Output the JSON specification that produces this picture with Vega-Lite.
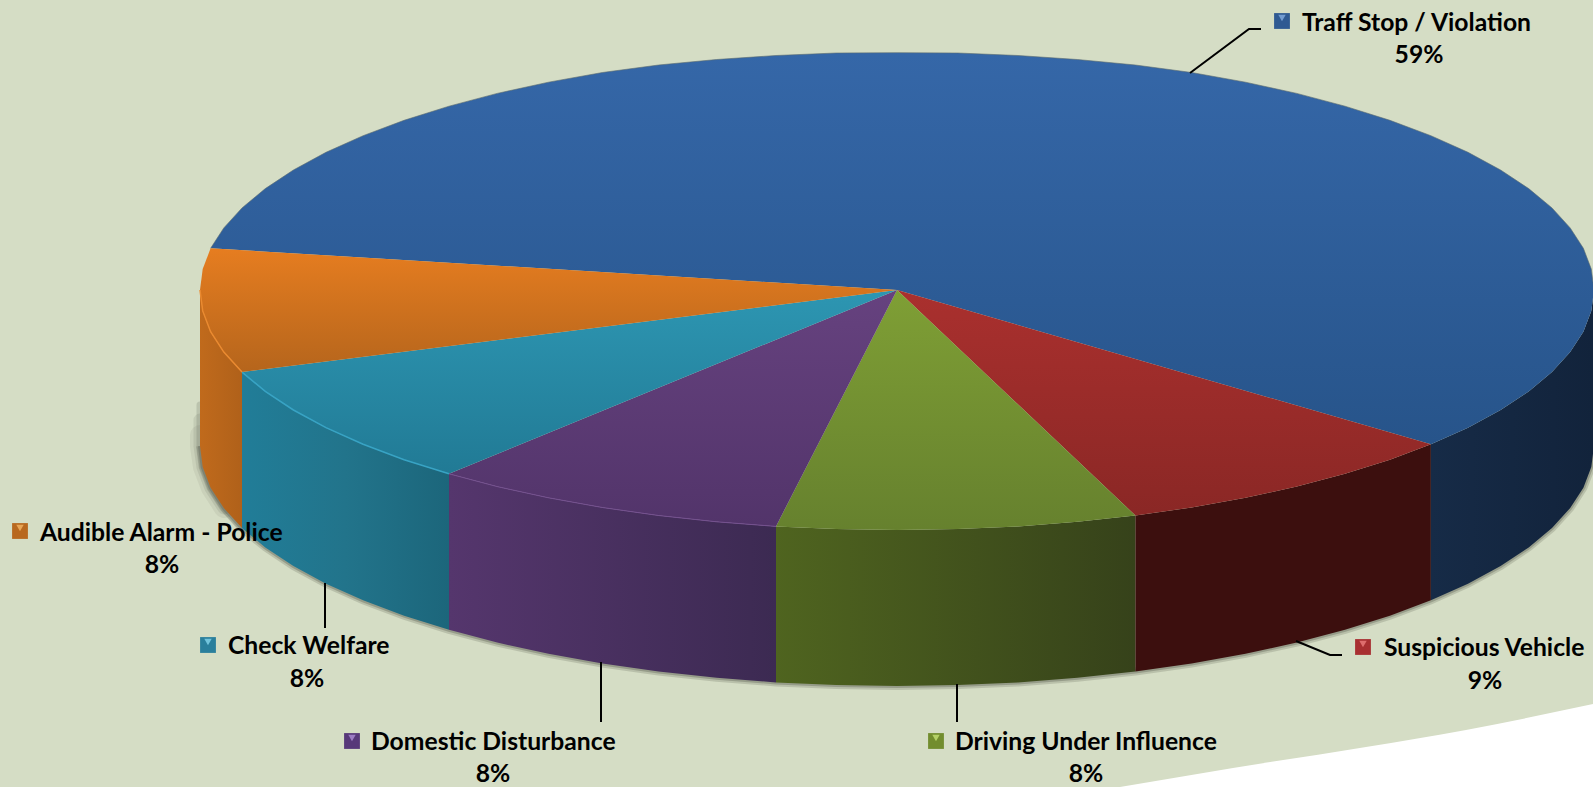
{"$schema":"https://vega.github.io/schema/vega-lite/v6.json","width":1593,"height":787,"padding":0,"autosize":{"type":"none"},"background":"#d5ddc5","config":{"view":{"stroke":null}},
"datasets":{
"page":[{"x":1120,"y":787},{"x":1233,"y":768},{"x":1366,"y":747},{"x":1466,"y":730},{"x":1593,"y":704}],
"blob":[{"x":200,"y":405},{"x":200,"y":420},{"x":200,"y":435},{"x":200,"y":446},{"x":203,"y":467},{"x":211,"y":488},{"x":224,"y":508},{"x":242,"y":528}],
"sides":[
{"k":"sOrange","x":200,"y":290,"y2":446},{"k":"sOrange","x":202.7,"y":310.9,"y2":466.9},{"k":"sOrange","x":210.6,"y":331.7,"y2":487.7},{"k":"sOrange","x":223.8,"y":352.1,"y2":508.1},{"k":"sOrange","x":242,"y":372.1,"y2":528.1},
{"k":"sTeal","x":242,"y":372.1,"y2":528.1},{"k":"sTeal","x":265.3,"y":391.4,"y2":547.4},{"k":"sTeal","x":293.4,"y":410,"y2":566},{"k":"sTeal","x":326,"y":427.7,"y2":583.7},{"k":"sTeal","x":363.1,"y":444.3,"y2":600.3},{"k":"sTeal","x":404.1,"y":459.7,"y2":615.7},{"k":"sTeal","x":449,"y":473.8,"y2":629.8},
{"k":"sPurple","x":449,"y":473.8,"y2":629.8},{"k":"sPurple","x":497.2,"y":486.6,"y2":642.6},{"k":"sPurple","x":548.5,"y":497.8,"y2":653.8},{"k":"sPurple","x":602.4,"y":507.5,"y2":663.5},{"k":"sPurple","x":658.6,"y":515.5,"y2":671.5},{"k":"sPurple","x":716.6,"y":521.8,"y2":677.8},{"k":"sPurple","x":776,"y":526.4,"y2":682.4},
{"k":"sGreen","x":776,"y":526.4,"y2":682.4},{"k":"sGreen","x":836.2,"y":529.1,"y2":685.1},{"k":"sGreen","x":897,"y":530,"y2":686},{"k":"sGreen","x":957.8,"y":529.1,"y2":685.1},{"k":"sGreen","x":1018,"y":526.4,"y2":682.4},{"k":"sGreen","x":1077.4,"y":521.8,"y2":677.8},{"k":"sGreen","x":1135.4,"y":515.5,"y2":671.5},
{"k":"sRed","x":1135.4,"y":515.5,"y2":671.5},{"k":"sRed","x":1191.6,"y":507.5,"y2":663.5},{"k":"sRed","x":1245.5,"y":497.8,"y2":653.8},{"k":"sRed","x":1296.8,"y":486.6,"y2":642.6},{"k":"sRed","x":1345,"y":473.8,"y2":629.8},{"k":"sRed","x":1389.9,"y":459.7,"y2":615.7},{"k":"sRed","x":1430.9,"y":444.3,"y2":600.3},
{"k":"sBlue","x":1430.9,"y":444.3,"y2":600.3},{"k":"sBlue","x":1468,"y":427.7,"y2":583.7},{"k":"sBlue","x":1500.6,"y":410,"y2":566},{"k":"sBlue","x":1528.7,"y":391.4,"y2":547.4},{"k":"sBlue","x":1552,"y":372.1,"y2":528.1},{"k":"sBlue","x":1570.2,"y":352.1,"y2":508.1},{"k":"sBlue","x":1583.4,"y":331.7,"y2":487.7},{"k":"sBlue","x":1591.3,"y":310.9,"y2":466.9},{"k":"sBlue","x":1594,"y":290,"y2":446}
],
"tops":[
{"k":"tBlue","i":0,"x":897,"y":290},{"k":"tBlue","i":1,"x":210.6,"y":248.3},{"k":"tBlue","i":2,"x":223.8,"y":227.9},{"k":"tBlue","i":3,"x":242,"y":207.9},{"k":"tBlue","i":4,"x":265.3,"y":188.6},{"k":"tBlue","i":5,"x":293.4,"y":170},{"k":"tBlue","i":6,"x":326,"y":152.3},{"k":"tBlue","i":7,"x":363.1,"y":135.7},{"k":"tBlue","i":8,"x":404.1,"y":120.3},{"k":"tBlue","i":9,"x":449,"y":106.2},{"k":"tBlue","i":10,"x":497.2,"y":93.4},{"k":"tBlue","i":11,"x":548.5,"y":82.2},{"k":"tBlue","i":12,"x":602.4,"y":72.5},{"k":"tBlue","i":13,"x":658.6,"y":65},{"k":"tBlue","i":14,"x":716.6,"y":59.5},{"k":"tBlue","i":15,"x":776,"y":55.5},{"k":"tBlue","i":16,"x":836.2,"y":53},{"k":"tBlue","i":17,"x":897,"y":52.7},{"k":"tBlue","i":18,"x":957.8,"y":53},{"k":"tBlue","i":19,"x":1018,"y":55.5},{"k":"tBlue","i":20,"x":1077.4,"y":59.5},{"k":"tBlue","i":21,"x":1135.4,"y":65},{"k":"tBlue","i":22,"x":1191.6,"y":72.5},{"k":"tBlue","i":23,"x":1245.5,"y":82.2},{"k":"tBlue","i":24,"x":1296.8,"y":93.4},{"k":"tBlue","i":25,"x":1345,"y":106.2},{"k":"tBlue","i":26,"x":1389.9,"y":120.3},{"k":"tBlue","i":27,"x":1430.9,"y":135.7},{"k":"tBlue","i":28,"x":1468,"y":152.3},{"k":"tBlue","i":29,"x":1500.6,"y":170},{"k":"tBlue","i":30,"x":1528.7,"y":188.6},{"k":"tBlue","i":31,"x":1552,"y":207.9},{"k":"tBlue","i":32,"x":1570.2,"y":227.9},{"k":"tBlue","i":33,"x":1583.4,"y":248.3},{"k":"tBlue","i":34,"x":1591.3,"y":269.1},{"k":"tBlue","i":35,"x":1594,"y":290},{"k":"tBlue","i":36,"x":1591.3,"y":310.9},{"k":"tBlue","i":37,"x":1583.4,"y":331.7},{"k":"tBlue","i":38,"x":1570.2,"y":352.1},{"k":"tBlue","i":39,"x":1552,"y":372.1},{"k":"tBlue","i":40,"x":1528.7,"y":391.4},{"k":"tBlue","i":41,"x":1500.6,"y":410},{"k":"tBlue","i":42,"x":1468,"y":427.7},{"k":"tBlue","i":43,"x":1430.9,"y":444.3},
{"k":"tRed","i":0,"x":897,"y":290},{"k":"tRed","i":1,"x":1430.9,"y":444.3},{"k":"tRed","i":2,"x":1389.9,"y":459.7},{"k":"tRed","i":3,"x":1345,"y":473.8},{"k":"tRed","i":4,"x":1296.8,"y":486.6},{"k":"tRed","i":5,"x":1245.5,"y":497.8},{"k":"tRed","i":6,"x":1191.6,"y":507.5},{"k":"tRed","i":7,"x":1135.4,"y":515.5},
{"k":"tGreen","i":0,"x":897,"y":290},{"k":"tGreen","i":1,"x":1135.4,"y":515.5},{"k":"tGreen","i":2,"x":1077.4,"y":521.8},{"k":"tGreen","i":3,"x":1018,"y":526.4},{"k":"tGreen","i":4,"x":957.8,"y":529.1},{"k":"tGreen","i":5,"x":897,"y":530},{"k":"tGreen","i":6,"x":836.2,"y":529.1},{"k":"tGreen","i":7,"x":776,"y":526.4},
{"k":"tPurple","i":0,"x":897,"y":290},{"k":"tPurple","i":1,"x":776,"y":526.4},{"k":"tPurple","i":2,"x":716.6,"y":521.8},{"k":"tPurple","i":3,"x":658.6,"y":515.5},{"k":"tPurple","i":4,"x":602.4,"y":507.5},{"k":"tPurple","i":5,"x":548.5,"y":497.8},{"k":"tPurple","i":6,"x":497.2,"y":486.6},{"k":"tPurple","i":7,"x":449,"y":473.8},
{"k":"tTeal","i":0,"x":897,"y":290},{"k":"tTeal","i":1,"x":449,"y":473.8},{"k":"tTeal","i":2,"x":404.1,"y":459.7},{"k":"tTeal","i":3,"x":363.1,"y":444.3},{"k":"tTeal","i":4,"x":326,"y":427.7},{"k":"tTeal","i":5,"x":293.4,"y":410},{"k":"tTeal","i":6,"x":265.3,"y":391.4},{"k":"tTeal","i":7,"x":242,"y":372.1},
{"k":"tOrange","i":0,"x":897,"y":290},{"k":"tOrange","i":1,"x":242,"y":372.1},{"k":"tOrange","i":2,"x":223.8,"y":352.1},{"k":"tOrange","i":3,"x":210.6,"y":331.7},{"k":"tOrange","i":4,"x":202.7,"y":310.9},{"k":"tOrange","i":5,"x":200,"y":290},{"k":"tOrange","i":6,"x":202.7,"y":269.1},{"k":"tOrange","i":7,"x":210.6,"y":248.3}
],
"leaders":[
{"cause":"Traff Stop / Violation","i":0,"x":1190,"y":73},{"cause":"Traff Stop / Violation","i":1,"x":1249,"y":29},{"cause":"Traff Stop / Violation","i":2,"x":1261,"y":29},
{"cause":"Check Welfare","i":0,"x":325,"y":583},{"cause":"Check Welfare","i":1,"x":325,"y":628},
{"cause":"Domestic Disturbance","i":0,"x":601,"y":662},{"cause":"Domestic Disturbance","i":1,"x":601,"y":722},
{"cause":"Driving Under Influence","i":0,"x":957,"y":684},{"cause":"Driving Under Influence","i":1,"x":957,"y":722},
{"cause":"Suspicious Vehicle","i":0,"x":1296,"y":641},{"cause":"Suspicious Vehicle","i":1,"x":1330,"y":655},{"cause":"Suspicious Vehicle","i":2,"x":1342,"y":655}
],
"labels":[
{"cause":"Traff Stop / Violation","share":"59%","sx":1282,"sy":21,"tx":1302,"ty":24,"px":1419,"py":56},
{"cause":"Audible Alarm - Police","share":"8%","sx":20,"sy":531,"tx":40,"ty":534,"px":162,"py":566},
{"cause":"Check Welfare","share":"8%","sx":208,"sy":645,"tx":228,"ty":647,"px":307,"py":680},
{"cause":"Domestic Disturbance","share":"8%","sx":352,"sy":741,"tx":371,"ty":743,"px":493,"py":775},
{"cause":"Driving Under Influence","share":"8%","sx":936,"sy":741,"tx":955,"ty":743,"px":1086,"py":775},
{"cause":"Suspicious Vehicle","share":"9%","sx":1363,"sy":647,"tx":1384,"ty":649,"px":1485,"py":682}
]},
"resolve":{"scale":{"fill":"independent"}},
"encoding":{"x":{"field":"x","type":"quantitative","scale":{"domain":[0,1593]},"axis":null},"y":{"field":"y","type":"quantitative","scale":{"domain":[0,787],"reverse":true},"axis":null}},
"layer":[
{"data":{"name":"page"},"mark":{"type":"area","fill":"#ffffff","interpolate":"monotone"},"encoding":{"y2":{"datum":787}}},
{"data":{"name":"blob"},"transform":[{"filter":"datum.y>=435 && datum.y<=510"}],"mark":{"type":"line","stroke":"#4a4f44","strokeWidth":20,"strokeOpacity":0.08,"strokeCap":"round"},"encoding":{"order":{"field":"y"}}},
{"data":{"name":"blob"},"transform":[{"filter":"datum.y>=420 && datum.y<=510"}],"mark":{"type":"line","stroke":"#4a4f44","strokeWidth":13,"strokeOpacity":0.12,"strokeCap":"round"},"encoding":{"order":{"field":"y"}}},
{"data":{"name":"blob"},"mark":{"type":"line","stroke":"#4a4f44","strokeWidth":7,"strokeOpacity":0.18,"strokeCap":"round"},"encoding":{"order":{"field":"y"}}},
{"data":{"name":"sides"},"mark":{"type":"line","stroke":"#555a4c","strokeWidth":8,"strokeOpacity":0.22},"encoding":{"y":{"field":"y2","type":"quantitative"},"order":{"field":"x"}}},
{"data":{"name":"sides"},"mark":{"type":"line","stroke":"#555a4c","strokeWidth":4,"strokeOpacity":0.35},"encoding":{"y":{"field":"y2","type":"quantitative"},"order":{"field":"x"}}},
{"data":{"name":"sides"},"transform":[{"filter":"datum.k=='sOrange'"}],"mark":{"type":"area","fill":{"gradient":"linear","x1":0,"x2":1,"y1":0,"y2":0,"stops":[{"offset":0,"color":"#c06a1c"},{"offset":1,"color":"#b0611a"}]}},"encoding":{"y2":{"field":"y2"}}},
{"data":{"name":"sides"},"transform":[{"filter":"datum.k=='sTeal'"}],"mark":{"type":"area","fill":{"gradient":"linear","x1":0,"x2":1,"y1":0,"y2":0,"stops":[{"offset":0,"color":"#217d98"},{"offset":0.5,"color":"#22748b"},{"offset":1,"color":"#1c667b"}]}},"encoding":{"y2":{"field":"y2"}}},
{"data":{"name":"sides"},"transform":[{"filter":"datum.k=='sPurple'"}],"mark":{"type":"area","fill":{"gradient":"linear","x1":0,"x2":1,"y1":0,"y2":0,"stops":[{"offset":0,"color":"#55366d"},{"offset":1,"color":"#3c2a52"}]}},"encoding":{"y2":{"field":"y2"}}},
{"data":{"name":"sides"},"transform":[{"filter":"datum.k=='sGreen'"}],"mark":{"type":"area","fill":{"gradient":"linear","x1":0,"x2":1,"y1":0,"y2":0,"stops":[{"offset":0,"color":"#4f641f"},{"offset":1,"color":"#36421a"}]}},"encoding":{"y2":{"field":"y2"}}},
{"data":{"name":"sides"},"transform":[{"filter":"datum.k=='sRed'"}],"mark":{"type":"area","fill":"#3c0f0e"},"encoding":{"y2":{"field":"y2"}}},
{"data":{"name":"sides"},"transform":[{"filter":"datum.k=='sBlue'"}],"mark":{"type":"area","fill":{"gradient":"linear","x1":0,"x2":1,"y1":0,"y2":0,"stops":[{"offset":0,"color":"#162b47"},{"offset":1,"color":"#12233b"}]}},"encoding":{"y2":{"field":"y2"}}},
{"data":{"name":"tops"},"transform":[{"filter":"datum.k=='tBlue'"}],"mark":{"type":"line","stroke":null,"fill":{"gradient":"linear","x1":0,"x2":0,"y1":0,"y2":1,"stops":[{"offset":0,"color":"#3567a8"},{"offset":1,"color":"#27548a"}]}},"encoding":{"order":{"field":"i"}}},
{"data":{"name":"tops"},"transform":[{"filter":"datum.k=='tRed'"}],"mark":{"type":"line","stroke":null,"fill":{"gradient":"linear","x1":0,"x2":0,"y1":0,"y2":1,"stops":[{"offset":0,"color":"#aa302e"},{"offset":1,"color":"#8a2725"}]}},"encoding":{"order":{"field":"i"}}},
{"data":{"name":"tops"},"transform":[{"filter":"datum.k=='tGreen'"}],"mark":{"type":"line","stroke":null,"fill":{"gradient":"linear","x1":0,"x2":0,"y1":0,"y2":1,"stops":[{"offset":0,"color":"#7f9f35"},{"offset":1,"color":"#66812e"}]}},"encoding":{"order":{"field":"i"}}},
{"data":{"name":"tops"},"transform":[{"filter":"datum.k=='tPurple'"}],"mark":{"type":"line","stroke":null,"fill":{"gradient":"linear","x1":0,"x2":0,"y1":0,"y2":1,"stops":[{"offset":0,"color":"#66427f"},{"offset":1,"color":"#52346a"}]}},"encoding":{"order":{"field":"i"}}},
{"data":{"name":"tops"},"transform":[{"filter":"datum.k=='tTeal'"}],"mark":{"type":"line","stroke":null,"fill":{"gradient":"linear","x1":0,"x2":0,"y1":0,"y2":1,"stops":[{"offset":0,"color":"#2d96b2"},{"offset":1,"color":"#217a95"}]}},"encoding":{"order":{"field":"i"}}},
{"data":{"name":"tops"},"transform":[{"filter":"datum.k=='tOrange'"}],"mark":{"type":"line","stroke":null,"fill":{"gradient":"linear","x1":0,"x2":0,"y1":0,"y2":1,"stops":[{"offset":0,"color":"#e67d20"},{"offset":1,"color":"#b5651c"}]}},"encoding":{"order":{"field":"i"}}},
{"data":{"name":"tops"},"transform":[{"filter":"datum.k=='tBlue' && datum.i>=1 && datum.i<=35"}],"mark":{"type":"line","stroke":"#5a6a70","strokeWidth":1,"strokeOpacity":0.6},"encoding":{"order":{"field":"i"}}},
{"data":{"name":"sides"},"transform":[{"filter":"datum.k=='sTeal'"}],"mark":{"type":"line","stroke":"#38a3c4","strokeWidth":1.5},"encoding":{"order":{"field":"x"}}},
{"data":{"name":"sides"},"transform":[{"filter":"datum.k=='sPurple'"}],"mark":{"type":"line","stroke":"#74508f","strokeWidth":1},"encoding":{"order":{"field":"x"}}},
{"data":{"name":"sides"},"transform":[{"filter":"datum.k=='sOrange'"}],"mark":{"type":"line","stroke":"#ea8a30","strokeWidth":1.5},"encoding":{"order":{"field":"x"}}},
{"data":{"name":"leaders"},"mark":{"type":"line","stroke":"#000000","strokeWidth":2},"encoding":{"detail":{"field":"cause"},"order":{"field":"i"}}},
{"data":{"name":"labels"},"mark":{"type":"point","shape":"square","filled":true,"size":250,"opacity":1},"encoding":{"x":{"field":"sx","type":"quantitative"},"y":{"field":"sy","type":"quantitative"},
"fill":{"field":"cause","type":"nominal","legend":null,"scale":{"domain":["Traff Stop / Violation","Audible Alarm - Police","Check Welfare","Domestic Disturbance","Driving Under Influence","Suspicious Vehicle"],"range":["#2f5a92","#b8681f","#2a7f9c","#573879","#728d2e","#a82f31"]}}}},
{"data":{"name":"labels"},"mark":{"type":"point","shape":"triangle-down","filled":true,"size":55,"opacity":0.85,"yOffset":-3},"encoding":{"x":{"field":"sx","type":"quantitative"},"y":{"field":"sy","type":"quantitative"},
"fill":{"field":"cause","type":"nominal","legend":null,"scale":{"domain":["Traff Stop / Violation","Audible Alarm - Police","Check Welfare","Domestic Disturbance","Driving Under Influence","Suspicious Vehicle"],"range":["#7fa8dc","#f0b060","#7fd0e8","#a888d0","#c0dc70","#e87878"]}}}},
{"data":{"name":"labels"},"mark":{"type":"text","font":"Lato","fontWeight":"bold","fontSize":24.7,"align":"left","baseline":"middle","color":"#000000"},"encoding":{"x":{"field":"tx","type":"quantitative"},"y":{"field":"ty","type":"quantitative"},"text":{"field":"cause"}}},
{"data":{"name":"labels"},"mark":{"type":"text","font":"Lato","fontWeight":"bold","fontSize":24.7,"align":"center","baseline":"middle","color":"#000000"},"encoding":{"x":{"field":"px","type":"quantitative"},"y":{"field":"py","type":"quantitative"},"text":{"field":"share"}}}
]}
